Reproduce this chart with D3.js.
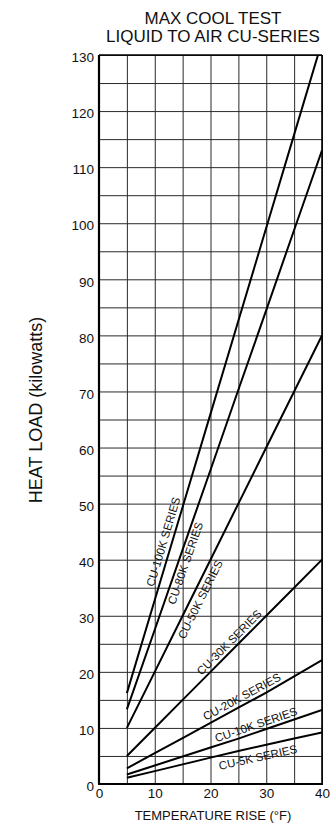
<!DOCTYPE html>
<html>
<head>
<meta charset="utf-8">
<script src="https://cdn.jsdelivr.net/npm/d3@7"></script>
<style>
  body { margin: 0; background: #fff; }
  svg { display: block; }
  text { font-family: "Liberation Sans", Arial, sans-serif; fill: #111; }
</style>
</head>
<body>
<script>
// data
const temps = [5, 10, 15, 20, 25, 30, 35, 40];
const cu100k = [16.2, 32.8, 49.4, 66.0, 82.6, 99.2, 115.8, 132.4];
const cu80k = [13.3, 27.5, 41.8, 56.0, 70.3, 84.5, 98.8, 113.0];
const cu50k = [10, 20, 30, 40, 50, 60, 70, 80];
const cu30k = [5, 10, 15, 20, 25, 30, 35, 40];
const cu20k = [2.8, 5.5, 8.2, 10.9, 13.6, 16.3, 19.2, 22.1];
const cu10k = [1.7, 3.3, 4.9, 6.5, 8.1, 9.8, 11.5, 13.2];
const cu5k = [1.1, 2.3, 3.5, 4.7, 5.9, 7.0, 8.1, 9.2];
const seriesNames = ["CU-100K SERIES", "CU-80K SERIES", "CU-50K SERIES", "CU-30K SERIES",
                     "CU-20K SERIES", "CU-10K SERIES", "CU-5K SERIES"];
const seriesValues = [cu100k, cu80k, cu50k, cu30k, cu20k, cu10k, cu5k];
const xTicks = [0, 10, 20, 30, 40];
const yTicks = [0, 10, 20, 30, 40, 50, 60, 70, 80, 90, 100, 110, 120, 130];
const titleLines = ["MAX COOL TEST", "LIQUID TO AIR CU-SERIES"];
// data

// where each series label sits: temperature along the line, px off the line (+ above)
const labelAt = [13, 14.3, 16.8, 24.3, 26.3, 28.6, 28.1];
const labelOff = [8.5, -7, -8.5, 7.5, 8, 7.5, -10.5];

const width = 331, height = 823;
const plot = { left: 99, right: 322, top: 55, bottom: 784 };

const x = d3.scaleLinear().domain([0, 40]).range([plot.left, plot.right]);
const y = d3.scaleLinear().domain([0, 130]).range([plot.bottom, plot.top]);

const svg = d3.select("body").append("svg")
  .attr("width", width)
  .attr("height", height);

// grid (every 5 units)
svg.append("g")
  .attr("transform", `translate(0,${plot.bottom})`)
  .call(d3.axisBottom(x).tickValues(d3.range(0, 41, 5)).tickSize(-(plot.bottom - plot.top)).tickFormat(""))
  .call(g => g.select(".domain").remove())
  .selectAll("line").attr("stroke", "#2a2a2a").attr("stroke-width", 1);

svg.append("g")
  .attr("transform", `translate(${plot.left},0)`)
  .call(d3.axisLeft(y).tickValues(d3.range(0, 131, 5)).tickSize(-(plot.right - plot.left)).tickFormat(""))
  .call(g => g.select(".domain").remove())
  .selectAll("line").attr("stroke", "#2a2a2a").attr("stroke-width", 1);

// frame
svg.append("line").attr("x1", plot.left).attr("x2", plot.left).attr("y1", plot.top).attr("y2", plot.bottom)
  .attr("stroke", "#000").attr("stroke-width", 2.2);
svg.append("line").attr("x1", plot.left - 1).attr("x2", plot.right + 1).attr("y1", plot.bottom).attr("y2", plot.bottom)
  .attr("stroke", "#000").attr("stroke-width", 2.2);
svg.append("line").attr("x1", plot.right).attr("x2", plot.right).attr("y1", plot.top).attr("y2", plot.bottom)
  .attr("stroke", "#000").attr("stroke-width", 1.6);
svg.append("line").attr("x1", plot.left).attr("x2", plot.right).attr("y1", plot.top).attr("y2", plot.top)
  .attr("stroke", "#000").attr("stroke-width", 1.3);

// tick labels
svg.append("g")
  .attr("transform", `translate(0,${plot.bottom})`)
  .call(d3.axisBottom(x).tickValues(xTicks).tickSize(0).tickPadding(4))
  .call(g => g.select(".domain").remove())
  .selectAll("text").style("font-size", "13.5px");

svg.append("g")
  .attr("transform", `translate(${plot.left},0)`)
  .call(d3.axisLeft(y).tickValues(yTicks).tickSize(0).tickPadding(5))
  .call(g => g.select(".domain").remove())
  .selectAll("text").style("font-size", "13.5px").attr("dy", "0.5em");

// series lines
svg.append("clipPath").attr("id", "clip")
  .append("rect")
  .attr("x", plot.left).attr("y", plot.top)
  .attr("width", plot.right - plot.left).attr("height", plot.bottom - plot.top);

const line = d3.line()
  .x((d, i) => x(temps[i]))
  .y(d => y(d));

svg.append("g").attr("clip-path", "url(#clip)")
  .selectAll("path")
  .data(seriesValues)
  .join("path")
  .attr("d", line)
  .attr("fill", "none")
  .attr("stroke", "#000")
  .attr("stroke-width", 2);

// series labels, rotated along their line
function valueAt(vals, t) {
  const i = Math.max(1, Math.min(temps.length - 1, d3.bisectLeft(temps, t)));
  const f = (t - temps[i - 1]) / (temps[i] - temps[i - 1]);
  return { v: vals[i - 1] + f * (vals[i] - vals[i - 1]), i };
}

seriesNames.forEach((name, k) => {
  const vals = seriesValues[k];
  const t = labelAt[k];
  const { v, i } = valueAt(vals, t);
  const dx = x(temps[i]) - x(temps[i - 1]);
  const dy = y(vals[i]) - y(vals[i - 1]);
  const a = Math.atan2(dy, dx);
  const cx = x(t) + labelOff[k] * Math.sin(a);
  const cy = y(v) - labelOff[k] * Math.cos(a);
  svg.append("text")
    .attr("transform", `translate(${cx},${cy}) rotate(${a * 180 / Math.PI})`)
    .attr("text-anchor", "middle")
    .attr("dominant-baseline", "central")
    .style("font-size", "11.5px")
    .text(name);
});

// titles
svg.append("g").selectAll("text")
  .data(titleLines)
  .join("text")
  .attr("x", 213)
  .attr("y", (d, i) => 24 + i * 18)
  .attr("text-anchor", "middle")
  .style("font-size", "17px")
  .text(d => d);

svg.append("text")
  .attr("x", 213)
  .attr("y", 820)
  .attr("text-anchor", "middle")
  .style("font-size", "13px")
  .text("TEMPERATURE RISE (°F)");

svg.append("text")
  .attr("transform", "translate(42,410) rotate(-90)")
  .attr("text-anchor", "middle")
  .style("font-size", "18px")
  .text("HEAT LOAD (kilowatts)");
</script>
</body>
</html>
